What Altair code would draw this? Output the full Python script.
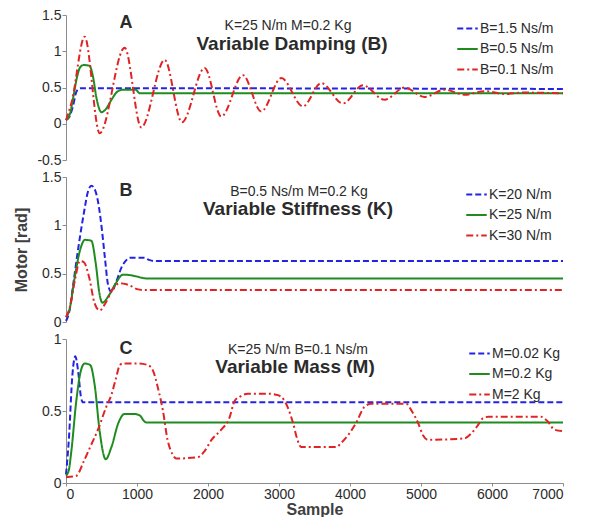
import altair as alt
import pandas as pd

FONT = "Liberation Sans"
TXT = "#2b2b2b"
COLORS = ["#2323e6", "#1e8c1e", "#e02424"]
DASHES = [[6, 3], [1, 0], [7, 3, 2, 3]]

# ---------------- Panel A : Variable Damping ----------------
A_names = ["B=1.5 Ns/m", "B=0.5 Ns/m", "B=0.1 Ns/m"]
A1_x = [0, 50, 100, 150, 200, 300, 7000]
A1_y = [0.05, 0.10, 0.25, 0.45, 0.49, 0.49, 0.48]
A2_x = [0, 50, 100, 150, 200, 250, 330, 380, 430, 500, 560, 640, 720, 800, 980, 1040, 7000]
A2_y = [0.05, 0.12, 0.35, 0.62, 0.78, 0.81, 0.80, 0.65, 0.35, 0.16, 0.20, 0.33, 0.44, 0.47, 0.47, 0.42, 0.42]
A3_x = [0, 80, 263, 474, 826, 1060, 1390, 1633, 1953, 2187, 2492, 2750, 3032, 3337,
        3595, 3900, 4182, 4487, 4769, 5051, 5332, 5614, 5900, 6180, 6450, 7000]
A3_y = [0.05, 0.30, 1.20, -0.13, 1.05, -0.05, 0.88, 0.02, 0.77, 0.10, 0.67, 0.17, 0.63, 0.24,
        0.56, 0.28, 0.53, 0.33, 0.50, 0.37, 0.47, 0.40, 0.45, 0.41, 0.43, 0.42]

# ---------------- Panel B : Variable Stiffness ----------------
B_names = ["K=20 N/m", "K=25 N/m", "K=30 N/m"]
B1_x = [0, 50, 100, 170, 250, 310, 357, 400, 450, 497, 550, 591, 640, 700, 779, 850, 900, 1100, 1180, 1250, 7000]
B1_y = [0.01, 0.12, 0.38, 0.75, 1.12, 1.35, 1.41, 1.38, 1.25, 1.01, 0.65, 0.39, 0.31, 0.40, 0.56, 0.64, 0.665, 0.665, 0.64, 0.63, 0.63]
B2_x = [0, 50, 120, 200, 267, 357, 420, 470, 512, 600, 700, 803, 900, 1000, 1084, 1150, 7000]
B2_y = [0.05, 0.13, 0.45, 0.75, 0.85, 0.84, 0.60, 0.30, 0.20, 0.27, 0.40, 0.49, 0.485, 0.47, 0.455, 0.45, 0.45]
B3_x = [0, 60, 130, 195, 250, 330, 400, 474, 560, 650, 756, 850, 950, 1000, 1100, 7000]
B3_y = [0.05, 0.17, 0.45, 0.63, 0.62, 0.45, 0.20, 0.12, 0.20, 0.33, 0.40, 0.39, 0.36, 0.34, 0.33, 0.33]

# ---------------- Panel C : Variable Mass ----------------
C_names = ["M=0.02 Kg", "M=0.2 Kg", "M=2 Kg"]
C1_x = [0, 40, 90, 131, 170, 210, 239, 7000]
C1_y = [0.06, 0.30, 0.75, 0.88, 0.78, 0.60, 0.56, 0.56]
C2_x = [0, 40, 75, 145, 200, 263, 340, 404, 474, 559, 640, 740, 826, 950, 1037, 1100, 1131, 7000]
C2_y = [0.05, 0.09, 0.22, 0.57, 0.76, 0.83, 0.82, 0.68, 0.36, 0.165, 0.25, 0.42, 0.48, 0.48, 0.47, 0.43, 0.42, 0.42]
C3_x = [0, 146, 250, 350, 450, 568, 638, 700, 760, 800, 1000, 1150, 1225, 1300, 1366, 1430, 1500, 1553,
        1859, 1950, 2050, 2187, 2300, 2375, 2450, 2563, 2850, 2985, 3079, 3196, 3260, 3313,
        3806, 3880, 3970, 4088, 4206, 4300, 4792, 4870, 4956, 5030, 5097,
        5614, 5700, 5800, 5873, 5950, 6693, 6780, 6881, 7000]
C3_y = [0.04, 0.05, 0.15, 0.26, 0.37, 0.53, 0.61, 0.72, 0.82, 0.83, 0.83, 0.82, 0.78, 0.65, 0.50, 0.30, 0.20, 0.17,
        0.18, 0.22, 0.30, 0.37, 0.45, 0.57, 0.60, 0.62, 0.62, 0.61, 0.57, 0.42, 0.30, 0.25,
        0.25, 0.28, 0.33, 0.42, 0.53, 0.55, 0.55, 0.50, 0.42, 0.33, 0.30,
        0.31, 0.34, 0.40, 0.45, 0.46, 0.46, 0.43, 0.37, 0.36]

X_TICKS = [0, 1000, 2000, 3000, 4000, 5000, 6000, 7000]


def make_df(names, series):
    rows = []
    for name, (xs, ys) in zip(names, series):
        for x, y in zip(xs, ys):
            rows.append({"x": x, "y": y, "s": name})
    return pd.DataFrame(rows)


def panel(names, series, ydomain, yticks, height, letter, params, title,
          show_x, ytitle, legend_x, legend_y, ann):
    df = make_df(names, series)
    leg = alt.Legend(orient="none", legendX=legend_x, legendY=legend_y, title=None,
                     symbolType="stroke", symbolSize=420, symbolStrokeWidth=2,
                     labelFont=FONT, labelFontSize=14, labelColor=TXT,
                     labelOffset=1, rowPadding=1.5, padding=0)
    if show_x:
        xaxis = alt.Axis(values=X_TICKS, labelExpr="'' + datum.value", title="Sample",
                         titleFont=FONT, titleFontSize=16, titleFontWeight="bold",
                         titleColor="#404040", titlePadding=0, labelFont=FONT,
                         labelFontSize=14, labelColor=TXT, tickSize=3, grid=False,
                         domainColor="#8c8c8c", tickColor="#8c8c8c", labelPadding=1)
    else:
        xaxis = None
    yaxis_kwargs = dict(values=yticks, labelExpr="'' + datum.value", grid=False,
                        labelFont=FONT, labelFontSize=14, labelColor=TXT, tickSize=4,
                        labelPadding=1, domainColor="#8c8c8c", tickColor="#8c8c8c")
    if ytitle:
        yaxis = alt.Axis(title=ytitle, titleFont=FONT, titleFontSize=16,
                         titleFontWeight="bold", titleColor="#404040", titlePadding=12,
                         **yaxis_kwargs)
    else:
        yaxis = alt.Axis(title=None, **yaxis_kwargs)

    lines = alt.Chart(df).mark_line(strokeWidth=2, interpolate="monotone").encode(
        x=alt.X("x:Q", scale=alt.Scale(domain=[0, 7000], nice=False, zero=False), axis=xaxis),
        y=alt.Y("y:Q", scale=alt.Scale(domain=ydomain, nice=False, zero=False), axis=yaxis),
        color=alt.Color("s:N", scale=alt.Scale(domain=names, range=COLORS), legend=leg),
        strokeDash=alt.StrokeDash("s:N", scale=alt.Scale(domain=names, range=DASHES), legend=leg),
    )
    (lx, ly), (px, py), (tx, ty) = ann
    t_letter = alt.Chart(pd.DataFrame({"t": [letter]})).mark_text(
        font=FONT, fontSize=18, fontWeight="bold", color=TXT, align="center", baseline="middle"
    ).encode(text="t:N", x=alt.value(lx), y=alt.value(ly))
    t_params = alt.Chart(pd.DataFrame({"t": [params]})).mark_text(
        font=FONT, fontSize=14, color=TXT, align="center", baseline="middle"
    ).encode(text="t:N", x=alt.value(px), y=alt.value(py))
    t_title = alt.Chart(pd.DataFrame({"t": [title]})).mark_text(
        font=FONT, fontSize=19, fontWeight="bold", color=TXT, align="center", baseline="middle"
    ).encode(text="t:N", x=alt.value(tx), y=alt.value(ty))
    return alt.layer(lines, t_letter, t_params, t_title).properties(width=497, height=height)


pA = panel(A_names, [(A1_x, A1_y), (A2_x, A2_y), (A3_x, A3_y)], [-0.5, 1.5],
           [-0.5, 0, 0.5, 1, 1.5], 145, "A", "K=25 N/m M=0.2 Kg", "Variable Damping (B)",
           False, None, 390, 2, ((60, 8), (222, 11), (226, 29)))
pB = panel(B_names, [(B1_x, B1_y), (B2_x, B2_y), (B3_x, B3_y)], [0, 1.5],
           [0, 0.5, 1, 1.5], 145, "B", "B=0.5 Ns/m M=0.2 Kg", "Variable Stiffness (K)",
           False, "Motor [rad]", 399, 6, ((60, 14), (233, 15), (232, 32)))
pC = panel(C_names, [(C1_x, C1_y), (C2_x, C2_y), (C3_x, C3_y)], [0, 1],
           [0, 0.5, 1], 144, "C", "K=25 N/m  B=0.1 Ns/m", "Variable Mass (M)",
           True, None, 402, 3, ((60, 10), (232, 11), (229, 28)))

chart = alt.vconcat(pA, pB, pC, spacing=17, bounds="flush").resolve_scale(
    color="independent", strokeDash="independent", y="independent", x="shared"
).resolve_legend(color="independent", strokeDash="independent").configure_view(
    strokeWidth=0
).properties(background="white", padding={"left": 5, "top": 0, "right": 5, "bottom": 0})

chart.save("out.html", embed_options={"renderer": "svg", "actions": False})
